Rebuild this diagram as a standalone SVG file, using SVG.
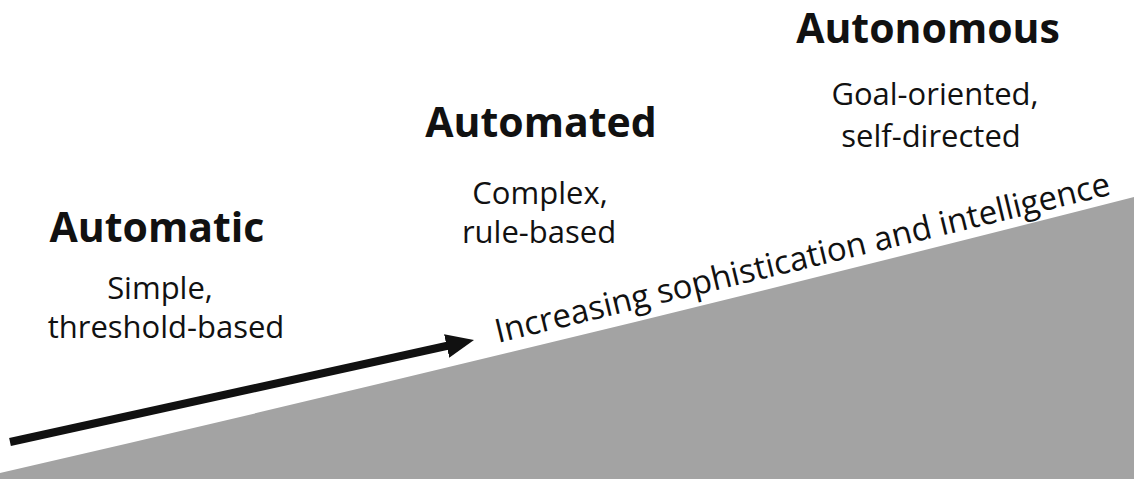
<svg xmlns="http://www.w3.org/2000/svg" width="1134" height="479" viewBox="0 0 1134 479">
<style>
.h{font-family:"Open Sans","Noto Sans",sans-serif;font-weight:bold;font-size:41px;fill:#111;text-anchor:middle}
.s{font-family:"Open Sans","Noto Sans",sans-serif;font-size:31px;fill:#111;text-anchor:middle}
.r{font-family:"Open Sans","Noto Sans",sans-serif;font-size:33px;fill:#111}
</style>
<defs>
<marker id="ah" markerWidth="3.5" markerHeight="3" refX="0.25" refY="1.5" orient="auto" markerUnits="strokeWidth" viewBox="0 0 3.5 3">
<path d="M0,0 L3.5,1.5 L0,3 Z" fill="#111"/>
</marker>
</defs>
<rect width="1134" height="479" fill="#ffffff"/>
<path id="wedge" d="M0,473 Q567,342 1134,197 L1134,479 L0,479 Z" fill="#a3a3a3"/>
<g id="connectors">
<line x1="10" y1="442" x2="448.6" y2="345.5" stroke="#111" stroke-width="8" marker-end="url(#ah)"/>
</g>
<g id="automatic">
<text class="h" x="157" y="242">Automatic</text>
<text class="s" x="160" y="299">Simple,</text>
<text class="s" x="166" y="338">threshold-based</text>
</g>
<g id="automated">
<text class="h" x="541" y="137">Automated</text>
<text class="s" x="540" y="204">Complex,</text>
<text class="s" x="539" y="243">rule-based</text>
</g>
<g id="autonomous">
<text class="h" x="928" y="43">Autonomous</text>
<text class="s" x="935" y="105">Goal-oriented,</text>
<text class="s" x="931" y="147">self-directed</text>
</g>
<text class="r" transform="translate(498,343) rotate(-13.6)">Increasing sophistication and intelligence</text>
</svg>
